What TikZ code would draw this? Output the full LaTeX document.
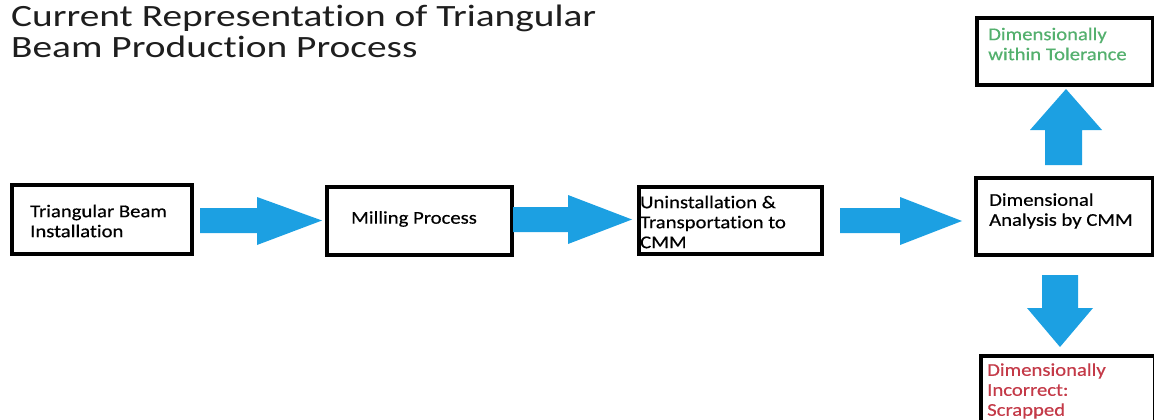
\documentclass[tikz,border=0pt]{standalone}
\usepackage{fontspec}
\setmainfont{Carlito}[Ligatures=NoCommon]
\newfontfamily\titlefont{Carlito}[Ligatures=NoCommon,FakeStretch=1.27]
\newfontfamily\boxfont{Carlito}[Ligatures=NoCommon,FakeStretch=1.15,FakeBold=0.45]
\usetikzlibrary{calc}
\definecolor{arrowblue}{RGB}{28,160,226}
\definecolor{okgreen}{RGB}{84,176,110}
\definecolor{badred}{RGB}{196,58,72}
\definecolor{titlegray}{RGB}{30,30,30}
\tikzset{
  stepbox/.style={draw=black, line width=4.2pt, fill=white, rectangle, inner sep=0pt, anchor=north west},
  boxtext/.style={font=\boxfont\fontsize{18}{20}\selectfont, align=left, inner sep=0pt, anchor=west},
  blockarrow/.style={fill=arrowblue, draw=none}
}
\begin{document}
\begin{tikzpicture}[x=1pt,y=-1pt]
\useasboundingbox (0,0) rectangle (1154,420);
% title
\node[anchor=north west, align=left, inner sep=0pt, text=titlegray, font=\titlefont\fontsize{31}{31}\selectfont] (title) at (11,5)
  {Current Representation of Triangular\\Beam Production Process};
% boxes
\node[stepbox, minimum width=180pt, minimum height=69pt] (b1) at (10,183) {};
\node[stepbox, minimum width=185pt, minimum height=68pt] (b2) at (325,185) {};
\node[stepbox, minimum width=183pt, minimum height=67pt] (b3) at (637,185) {};
\node[stepbox, minimum width=177pt, minimum height=77pt] (b4) at (974,176) {};
\node[stepbox, minimum width=176pt, minimum height=67pt] (b5) at (975,16) {};
\node[stepbox, minimum width=174pt, minimum height=80pt] (b6) at (979,354) {};
% texts
\node[boxtext] (t1) at (30,221) {Triangular Beam\\Installation};
\node[boxtext, anchor=center] (t2) at (414,219) {Milling Process};
\node[boxtext] (t3) at (640,222) {Uninstallation \&\\Transportation to\\CMM};
\node[boxtext] (t4) at (989,211) {Dimensional\\Analysis by CMM};
\node[boxtext, text=okgreen] (t5) at (988,44) {Dimensionally\\within Tolerance};
\node[boxtext, text=badred] (t6) at (987,391) {Dimensionally\\Incorrect:\\Scrapped};
% block arrows (connectors)
\fill[blockarrow] (200,208) -- (257,208) -- (257,197) -- (322,220.5) -- (257,245) -- (257,233) -- (200,233) -- cycle;
\fill[blockarrow] (513,207) -- (568,207) -- (568,195) -- (632,219.5) -- (568,244) -- (568,232) -- (513,232) -- cycle;
\fill[blockarrow] (840,208) -- (900,208) -- (900,197) -- (962,221) -- (900,245) -- (900,233) -- (840,233) -- cycle;
\fill[blockarrow] (1045,165) -- (1045,130) -- (1030,130) -- (1066,89) -- (1102,130) -- (1082,130) -- (1082,165) -- cycle;
\fill[blockarrow] (1042,275) -- (1078,275) -- (1078,308) -- (1093,308) -- (1060,347) -- (1027,308) -- (1042,308) -- cycle;
\end{tikzpicture}
\end{document}
